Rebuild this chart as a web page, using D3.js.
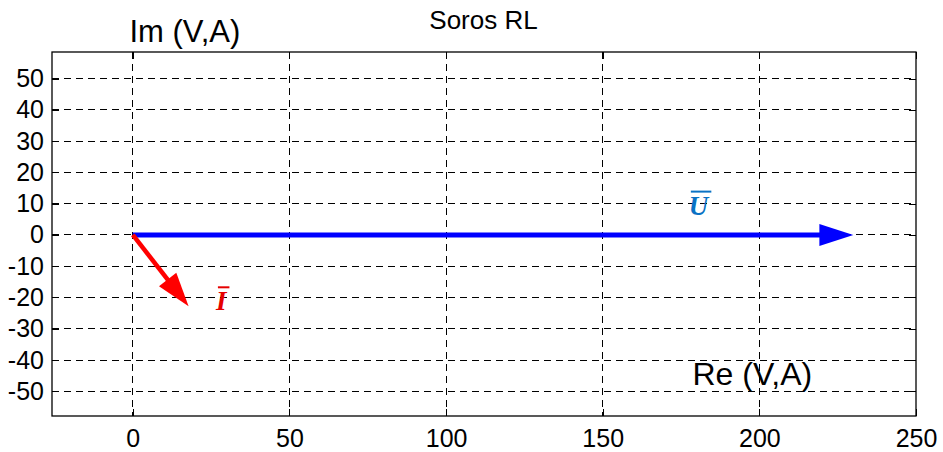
<!DOCTYPE html>
<html>
<head>
<meta charset="utf-8">
<script src="https://cdn.jsdelivr.net/npm/d3@7"></script>
<style>
  html, body { margin: 0; padding: 0; background: #fff; }
  svg { display: block; }
</style>
</head>
<body>
<svg id="chart" width="943" height="452"></svg>
<script>
// ---- data ----
const chartTitle = "Soros RL";
const xLabel = "Re (V,A)";
const yLabel = "Im (V,A)";
const xDomain = [-25.8, 250];
const yDomain = [-57.9, 58.5];
const xTicks = [0, 50, 100, 150, 200, 250];
const yTicks = [-50, -40, -30, -20, -10, 0, 10, 20, 30, 40, 50];
const phasorNames = ["U", "I"];
const phasorRe = [230, 17.8];
const phasorIm = [0, -22.8];
const labelRe = [180.6, 28.2];
const labelIm = [6.5, -24.1];

// ---- styles ----
const sans = "'Liberation Sans', Arial, sans-serif";
const serif = "'Liberation Serif', 'Times New Roman', serif";
const lineColors = ["#0000FF", "#FF0000"];
const labelColors = ["#0A72C4", "#E60000"];
const lineWidths = [5, 4.5];

const svg = d3.select("#chart");
const L = 52, R = 916, T = 52, B = 416;
const x = d3.scaleLinear().domain(xDomain).range([L, R]);
const y = d3.scaleLinear().domain(yDomain).range([B, T]);

// grid
const grid = svg.append("g");
grid.selectAll("line.vx").data(xTicks.filter(t => t > xDomain[0] && t < xDomain[1])).join("line")
  .attr("x1", d => x(d)).attr("x2", d => x(d)).attr("y1", T).attr("y2", B)
  .attr("stroke", "#000").attr("stroke-width", 1).attr("stroke-dasharray", "7,5")
  .attr("shape-rendering", "crispEdges");
grid.selectAll("line.hy").data(yTicks).join("line")
  .attr("x1", L).attr("x2", R).attr("y1", d => y(d)).attr("y2", d => y(d))
  .attr("stroke", "#000").attr("stroke-width", 1).attr("stroke-dasharray", "7,5")
  .attr("shape-rendering", "crispEdges");

// axes
const tickLen = 7;
const fmt = d => String(d);
const xAxisB = d3.axisBottom(x).tickValues(xTicks).tickSizeInner(-tickLen).tickSizeOuter(0).tickPadding(13).tickFormat(fmt);
const xAxisT = d3.axisTop(x).tickValues(xTicks).tickSizeInner(-tickLen).tickSizeOuter(0).tickFormat("");
const yAxisL = d3.axisLeft(y).tickValues(yTicks).tickSizeInner(-tickLen).tickSizeOuter(0).tickPadding(8).tickFormat(fmt);
const yAxisR = d3.axisRight(y).tickValues(yTicks).tickSizeInner(-tickLen).tickSizeOuter(0).tickFormat("");

function styleAxis(g) {
  g.select(".domain").remove();
  g.selectAll(".tick line").attr("stroke", "#000").attr("stroke-width", 1).attr("shape-rendering", "crispEdges");
  g.selectAll(".tick text").attr("fill", "#000").style("font-size", "25px").style("font-family", sans);
}
svg.append("g").attr("transform", `translate(0,${B})`).call(xAxisB).call(styleAxis);
svg.append("g").attr("transform", `translate(0,${T})`).call(xAxisT).call(styleAxis);
svg.append("g").attr("transform", `translate(${L},0)`).call(yAxisL).call(styleAxis);
svg.append("g").attr("transform", `translate(${R},0)`).call(yAxisR).call(styleAxis);

// frame
svg.append("rect").attr("x", L).attr("y", T).attr("width", R - L).attr("height", B - T)
  .attr("fill", "none").attr("stroke", "#000").attr("stroke-width", 1.3);

// title & labels
svg.append("text").attr("x", 483.5).attr("y", 29).attr("text-anchor", "middle")
  .style("font-family", sans).style("font-size", "26px").text(chartTitle);
svg.append("text").attr("x", 129.5).attr("y", 41.5)
  .style("font-family", sans).style("font-size", "31px").text(yLabel);
svg.append("text").attr("x", 692.5).attr("y", 385)
  .style("font-family", sans).style("font-size", "32px").text(xLabel);

// phasors
const headLen = 34, headHalf = 11;
phasorNames.forEach((name, i) => {
  const x0 = x(0), y0 = y(0), x1 = x(phasorRe[i]), y1 = y(phasorIm[i]);
  const dx = x1 - x0, dy = y1 - y0, len = Math.hypot(dx, dy);
  const ux = dx / len, uy = dy / len;
  const bx = x1 - ux * headLen, by = y1 - uy * headLen;
  svg.append("line").attr("x1", x0).attr("y1", y0).attr("x2", bx + ux * 2).attr("y2", by + uy * 2)
    .attr("stroke", lineColors[i]).attr("stroke-width", lineWidths[i]);
  svg.append("path")
    .attr("d", `M${x1},${y1}L${bx - uy * headHalf},${by + ux * headHalf}L${bx + uy * headHalf},${by - ux * headHalf}Z`)
    .attr("fill", lineColors[i]);
  const t = svg.append("text").attr("x", x(labelRe[i])).attr("y", y(labelIm[i]))
    .attr("text-anchor", "middle")
    .style("font-family", serif).style("font-weight", "bold").style("font-style", "italic")
    .style("font-size", "27px").attr("fill", labelColors[i]).text(name);
  const w = t.node().getComputedTextLength();
  const cx = x(labelRe[i]);
  svg.append("line").attr("x1", cx - w / 2 + 2).attr("x2", cx + w / 2 + 3)
    .attr("y1", y(labelIm[i]) - 23).attr("y2", y(labelIm[i]) - 23)
    .attr("stroke", labelColors[i]).attr("stroke-width", 2);
});
</script>
</body>
</html>
